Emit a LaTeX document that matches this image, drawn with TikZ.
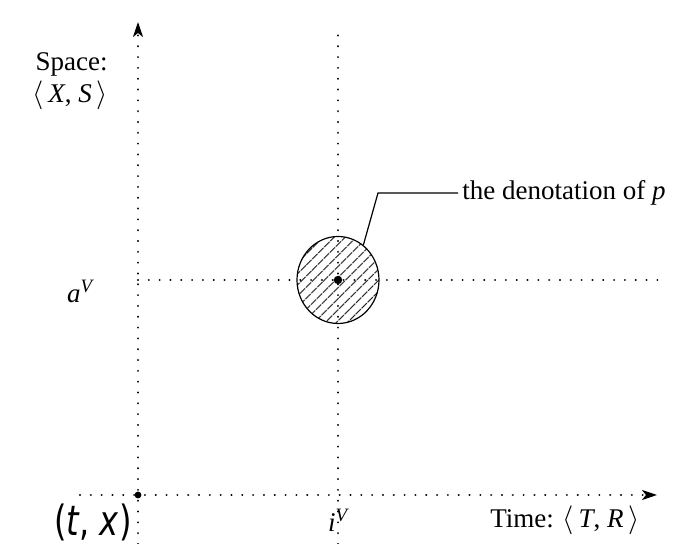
\documentclass[tikz,border=0pt]{standalone}
\usepackage{fontspec}
\setmainfont{Liberation Serif}
\newfontfamily\pairfont{DejaVu Sans}
\usetikzlibrary{arrows.meta,patterns.meta,shapes.geometric}
\tikzset{
  dotline/.style={line width=1.1pt, dash pattern=on 0.01pt off 5.4pt, line cap=round},
  axisline/.style={dotline, -{Stealth[length=7.5pt,width=5pt,inset=2pt]}},
  lbl/.style={font=\fontsize{13.5}{16}\selectfont, inner sep=0pt}
}
\begin{document}
\begin{tikzpicture}[x=0.5pt,y=0.5pt]
  \useasboundingbox (0,0) rectangle (691,544);

  % Define points
  \coordinate (O) at (138,49);
  \coordinate (P) at (338,264);
  \coordinate (tstart) at (80,49);
  \coordinate (tend) at (657,49);
  \coordinate (sstart) at (138,0);
  \coordinate (send) at (138,522);
  \coordinate (ibot) at (338,0);
  \coordinate (itop) at (338,518);
  \coordinate (aend) at (660,264);
  \coordinate (bend) at (378,351);
  \coordinate (lend) at (458,351);

  % Draw the denotation region
  \node[ellipse, draw, line width=0.6pt, minimum width=41pt, minimum height=43.5pt,
        inner sep=0pt, pattern={Lines[angle=45,distance=4pt,line width=0.5pt]}]
        (den) at (P) {};

  % Draw axes and grid lines
  \draw[axisline] (tstart) -- (tend);
  \draw[axisline] (sstart) -- (send);
  \draw[dotline] (ibot) -- (itop);
  \draw[dotline] (O |- P) -- (aend);

  % Draw leader to the label
  \draw[line width=0.6pt] (den.54) -- (bend) -- (lend);
  \node[lbl, anchor=west, xshift=2pt] (denlbl) at (lend) {the denotation of \textit{p}};

  % Mark points
  \fill (O) circle (3.4);
  \fill (P) circle (4.2);

  % Labels
  \node[lbl, align=right, anchor=east] (space) at (108,463)
    {Space:\\$\langle$\,\textit{X}, \textit{S}\,$\rangle$};
  \node[lbl, anchor=base] (a) at (81,241) {\textit{a}\textsuperscript{\textit{V}}};
  \node[lbl, anchor=base] (i) at (339,12) {\textit{i}\textsuperscript{\textit{V}}};
  \node[lbl, anchor=base west] (time) at (490,16)
    {Time: $\langle$\,\textit{T}, \textit{R}\,$\rangle$};
  \node[font=\pairfont\fontsize{16}{18}\selectfont, inner sep=0pt, yscale=1.3,
        anchor=north] (tx) at (93,41) {(\textit{t}, \textit{x})};
\end{tikzpicture}
\end{document}
